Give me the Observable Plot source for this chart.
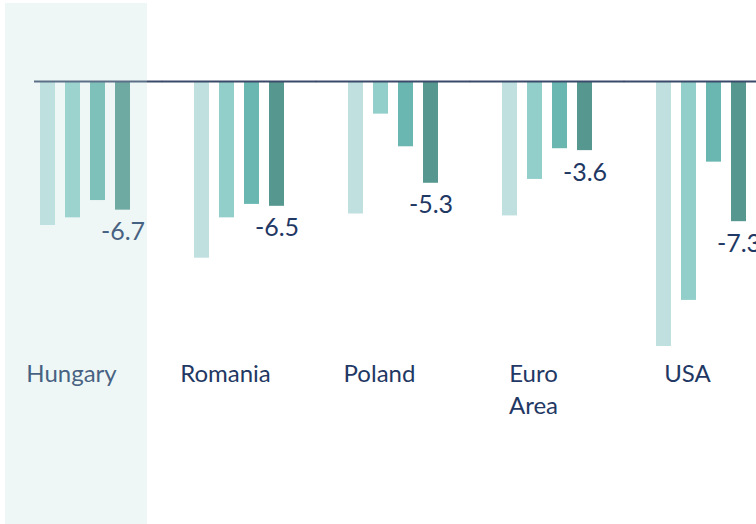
<!DOCTYPE html>
<html>
<head>
<meta charset="utf-8">
<script src="https://cdn.jsdelivr.net/npm/d3@7"></script>
<script src="https://cdn.jsdelivr.net/npm/@observablehq/plot@0.6"></script>
<style>
  html, body { margin: 0; padding: 0; background: #fff; }
  #chart svg { display: block; }
</style>
</head>
<body>
<div id="chart"></div>
<script>
const countries = ["Hungary", "Romania", "Poland", "Euro Area", "USA"];
const series = ["2020", "2021", "2022", "2023"];
const values2020 = [-7.5, -9.2, -6.9, -7.0, -13.8];
const values2021 = [-7.1, -7.1, -1.7, -5.1, -11.4];
const values2022 = [-6.2, -6.4, -3.4, -3.5, -4.2];
const values2023 = [-6.7, -6.5, -5.3, -3.6, -7.3];
const barColors = ["#bfe0df", "#93cfca", "#6ab7b1", "#56988f"];
const highlighted = "Hungary";
const labelSeries = "2023";

const allValues = [values2020, values2021, values2022, values2023];
const data = [];
countries.forEach((c, i) => {
  series.forEach((s, j) => data.push({country: c, series: s, value: allValues[j][i]}));
});
const labelData = data.filter(d => d.series === labelSeries);
const navy = "#1f3864";

const chart = Plot.plot({
  width: 756,
  height: 524,
  marginTop: 81,
  marginBottom: 168.4,
  marginLeft: 39,
  marginRight: 9,
  style: {fontFamily: "Lato, 'Open Sans', sans-serif", background: "#fff"},
  fx: {domain: countries, paddingInner: 0.404, paddingOuter: 0, label: null},
  x: {domain: series, paddingInner: 0.42, paddingOuter: 0, axis: null},
  y: {domain: [-14.3, 0], axis: null},
  color: {domain: series, range: barColors},
  marks: [
    Plot.barY(data, {fx: "country", x: "series", y: "value", fill: "series"}),
    Plot.ruleY(data.filter(d => d.series === labelSeries && d.country === countries[0]),
      {fx: "country", y: () => 0, stroke: "#3b4a6b", strokeWidth: 2, insetLeft: -5, insetRight: -31.2}),
    Plot.ruleY(data.filter(d => d.series === labelSeries && d.country !== countries[0]),
      {fx: "country", y: () => 0, stroke: "#3b4a6b", strokeWidth: 2, insetLeft: -31.2, insetRight: -31.2}),
    Plot.text(labelData, {fx: "country", x: "series", y: "value", text: d => d.value.toFixed(1),
      dy: 22, fontSize: 25, fill: navy}),
    Plot.axisFx({anchor: "bottom", tickSize: 0, tickPadding: 2.6, fontSize: 24, fill: navy,
      lineHeight: 1.34, dx: -14, label: null,
      tickFormat: d => d === "Euro Area" ? "Euro\nArea" : d}),
    Plot.rect([{country: highlighted}], {fx: "country", fill: "#bcdfdb", fillOpacity: 0.25,
      insetLeft: -34, insetRight: -16, insetTop: -78, insetBottom: -168.6})
  ]
});
document.getElementById("chart").appendChild(chart);
</script>
</body>
</html>
